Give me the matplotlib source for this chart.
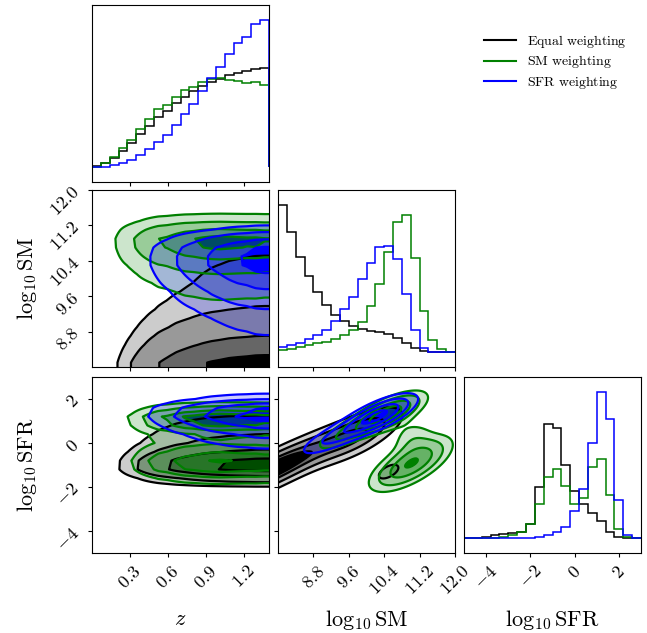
import numpy as np
import matplotlib
matplotlib.use('Agg')
import matplotlib.pyplot as plt
from matplotlib.lines import Line2D
from matplotlib.colors import to_rgba

plt.rcParams['mathtext.fontset'] = 'cm'
plt.rcParams['font.family'] = 'serif'
plt.rcParams['font.serif'] = ['DejaVu Serif']

weightings = ['Equal weighting', 'SM weighting', 'SFR weighting']
colors = ['black', 'green', 'blue']

z_range = (0.0, 1.4)
sm_range = (8.0, 12.0)
sfr_range = (-5.0, 3.0)

z_ticks = [0.3, 0.6, 0.9, 1.2]
z_tick_labels = ['0.3', '0.6', '0.9', '1.2']
sm_ticks = [8.8, 9.6, 10.4, 11.2, 12.0]
sm_tick_labels = ['8.8', '9.6', '10.4', '11.2', '12.0']
sfr_ticks = [-4, -2, 0, 2]
sfr_tick_labels = ['-4', '-2', '0', '2']

# 1D histograms, 20 bins over each range (arbitrary units, shared within a panel)
z_hist_equal = [3, 12, 27, 50, 73, 99, 125, 150, 170, 193, 210, 228, 244, 257, 266, 277, 283, 288, 295, 297]
z_hist_sm = [2, 12, 30, 57, 82, 115, 145, 174, 187, 211, 232, 241, 255, 264, 268, 263, 258, 254, 255, 247]
z_hist_sfr = [1, 2, 6, 12, 22, 37, 54, 76, 98, 128, 159, 190, 228, 269, 302, 340, 372, 392, 430, 443]

sm_hist_equal = [443, 361, 287, 228, 180, 143, 113, 94, 79, 70, 65, 60, 54, 44, 29, 13, 3, 0, 0, 0]
sm_hist_sm = [8, 11, 16, 22, 27, 32, 40, 51, 67, 92, 139, 206, 302, 391, 411, 282, 125, 37, 11, 0]
sm_hist_sfr = [16, 22, 28, 39, 52, 67, 93, 129, 166, 219, 268, 317, 319, 281, 174, 67, 14, 0, 0, 0]

sfr_hist_equal = [0, 1, 4, 9, 14, 17, 19, 43, 157, 346, 334, 224, 144, 105, 78, 52, 18, 4, 0, 0]
sfr_hist_sm = [0, 0, 1, 2, 5, 10, 20, 43, 103, 186, 210, 160, 105, 122, 215, 242, 130, 27, 3, 0]
sfr_hist_sfr = [0, 0, 0, 0, 0, 0, 0, 1, 3, 10, 20, 33, 84, 150, 288, 445, 363, 116, 10, 0]

# SM-SFR plane, gaussian components:
# (weight, SM centre, SFR centre, SM spread, SFR-vs-SM slope, SFR scatter)
sm_sfr_equal = [(0.37, 7.9, -0.9, 1.1, 0.95, 0.38),
                (0.37, 7.9, -1.5, 1.1, 0.95, 0.38),
                (0.23, 9.8, 0.3, 0.6, 0.9, 0.5),
                (0.03, 10.5, -1.3, 0.3, 0.8, 0.35)]
sm_sfr_sm = [(0.36, 10.5, 1.35, 0.45, 0.8, 0.38),
             (0.12, 9.6, 0.5, 0.5, 0.9, 0.35),
             (0.45, 11.0, -0.95, 0.5, 0.9, 0.5),
             (0.07, 11.05, 0.2, 0.3, 0.3, 0.5)]
sm_sfr_sfr = [(0.6, 10.3, 1.3, 0.45, 0.8, 0.35),
              (0.4, 9.5, 0.5, 0.6, 0.9, 0.33)]

contour_levels = 1.0 - np.exp(-0.5 * np.arange(0.5, 2.1, 0.5) ** 2)


def edges_of(r):
    return np.linspace(r[0], r[1], 21)


def separable(xh, yh, xr, yr):
    xe, ye = edges_of(xr), edges_of(yr)
    xc, yc = 0.5 * (xe[1:] + xe[:-1]), 0.5 * (ye[1:] + ye[:-1])
    x = np.linspace(xr[0], xr[1], 141)
    y = np.linspace(yr[0], yr[1], 161)
    gx = np.interp(x, xc, xh)
    gy = np.interp(y, yc, yh)
    return x, y, np.outer(gy, gx)


def mixture(comps, xr, yr):
    x = np.linspace(xr[0], xr[1], 161)
    y = np.linspace(yr[0], yr[1], 161)
    X, Y = np.meshgrid(x, y)
    H = np.zeros_like(X)
    for w, mx, my, sx, slope, scatter in comps:
        dx = (X - mx) / sx
        dy = (Y - my - slope * (X - mx)) / scatter
        H += w * np.exp(-0.5 * (dx * dx + dy * dy)) / (2 * np.pi * sx * scatter)
    return x, y, H


def draw_density(ax, x, y, H, color):
    Hflat = np.sort(H.ravel())[::-1]
    sm = np.cumsum(Hflat)
    sm /= sm[-1]
    V = np.array([Hflat[sm <= v0][-1] for v0 in contour_levels])
    V.sort()
    rgba = to_rgba(color)
    fills = [(rgba[0], rgba[1], rgba[2], i / 5.0) for i in range(4)] + [rgba]
    ax.contourf(x, y, H, np.concatenate([[0], V, [H.max() * (1 + 1e-4)]]), colors=fills)
    ax.contour(x, y, H, V, colors=color, linewidths=1.6)


def draw_hist(ax, hists, r):
    for h, c in zip(hists, colors):
        ax.stairs(h, edges_of(r), color=c, lw=1.1)
    m = max(max(h) for h in hists)
    ax.set_xlim(*r)
    ax.set_ylim(-0.1 * m, 1.1 * m)
    ax.set_yticks([])


fig = plt.figure(figsize=(6.47, 6.33), dpi=100)
W, H_ = 647.0, 633.0
cols = [92, 278, 464]
rows = [(5, 182), (190, 367), (377, 553)]
axes = {}
for i in range(3):
    for j in range(i + 1):
        top, bot = rows[i]
        axes[(i, j)] = fig.add_axes([cols[j] / W, 1 - bot / H_, 177 / W, (bot - top) / H_])

ranges = [z_range, sm_range, sfr_range]
ticks = [z_ticks, sm_ticks, sfr_ticks]
tick_labels = [z_tick_labels, sm_tick_labels, sfr_tick_labels]
names = [r'$z$', r'$\log_{10}\mathrm{SM}$', r'$\log_{10}\mathrm{SFR}$']

draw_hist(axes[(0, 0)], [z_hist_equal, z_hist_sm, z_hist_sfr], z_range)
draw_hist(axes[(1, 1)], [sm_hist_equal, sm_hist_sm, sm_hist_sfr], sm_range)
draw_hist(axes[(2, 2)], [sfr_hist_equal, sfr_hist_sm, sfr_hist_sfr], sfr_range)

z_sets = [z_hist_equal, z_hist_sm, z_hist_sfr]
sm_sets = [sm_hist_equal, sm_hist_sm, sm_hist_sfr]
sfr_sets = [sfr_hist_equal, sfr_hist_sm, sfr_hist_sfr]
mix_sets = [sm_sfr_equal, sm_sfr_sm, sm_sfr_sfr]
for k, c in enumerate(colors):
    x, y, H = separable(z_sets[k], sm_sets[k], z_range, sm_range)
    draw_density(axes[(1, 0)], x, y, H, c)
    x, y, H = separable(z_sets[k], sfr_sets[k], z_range, sfr_range)
    draw_density(axes[(2, 0)], x, y, H, c)
    x, y, H = mixture(mix_sets[k], sm_range, sfr_range)
    draw_density(axes[(2, 1)], x, y, H, c)

for (i, j), ax in axes.items():
    ax.set_xlim(*ranges[j])
    ax.set_xticks(ticks[j])
    ax.tick_params(direction='out', length=3, width=0.8)
    if i != j:
        ax.set_ylim(*ranges[i])
        ax.set_yticks(ticks[i])
    if i == 2:
        ax.set_xticklabels(['$' + t + '$' for t in tick_labels[j]], rotation=45, fontsize=13)
        ax.set_xlabel(names[j], fontsize=16)
        ax.xaxis.set_label_coords(0.5, -0.31)
    else:
        ax.set_xticklabels([])
    if j == 0 and i > 0:
        ax.set_yticklabels(['$' + t + '$' for t in tick_labels[i]], rotation=45, fontsize=13)
        ax.set_ylabel(names[i], fontsize=16)
        ax.yaxis.set_label_coords(-0.30, 0.5)
    elif i != j:
        ax.set_yticklabels([])

handles = [Line2D([], [], color=c, lw=1.5) for c in colors]
labels = [r'$\mathrm{' + w.replace(' ', r'\ ') + '}$' for w in weightings]
fig.legend(handles, labels, loc='center left', bbox_to_anchor=(484 / W, 1 - 62 / H_),
           frameon=False, fontsize=10, borderpad=0, borderaxespad=0,
           handlelength=2.3, handletextpad=0.8, labelspacing=0.25)

fig.savefig('out.png', dpi=100)
